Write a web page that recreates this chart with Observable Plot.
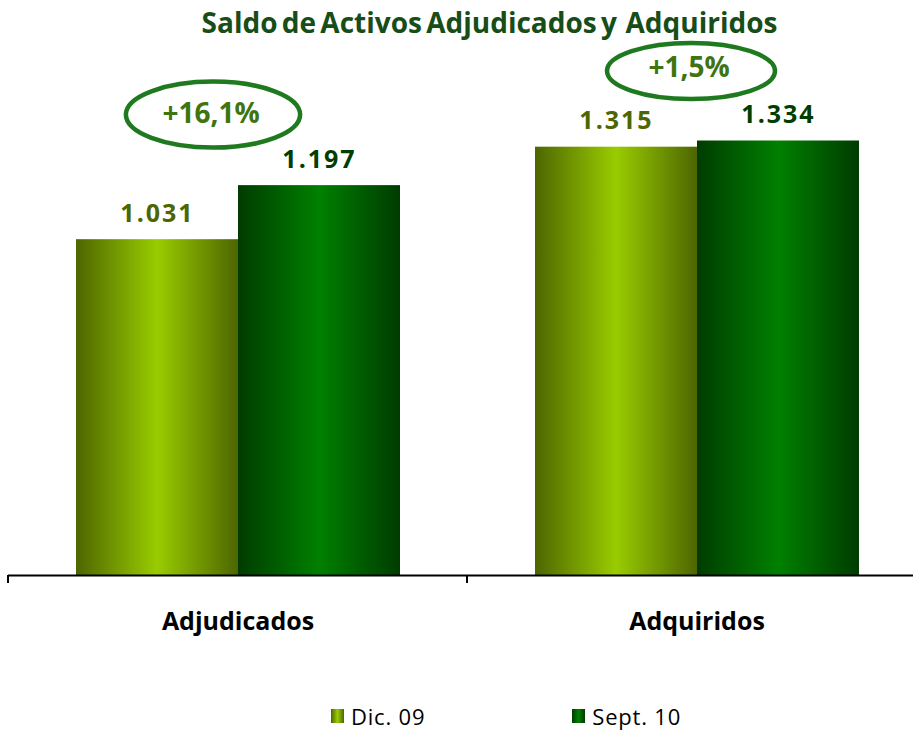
<!DOCTYPE html>
<html>
<head>
<meta charset="utf-8">
<script src="https://cdn.jsdelivr.net/npm/d3@7"></script>
<script src="https://cdn.jsdelivr.net/npm/@observablehq/plot@0.6"></script>
<style>
  html, body { margin: 0; padding: 0; background: #fff; overflow: hidden; }
  #wrap { position: relative; width: 913px; height: 733px; overflow: hidden; font-family: "Open Sans", Lato, sans-serif; }
  #title { height: 44px; line-height: 44px; padding-left: 66px; text-align: center; font-size: 28px; font-weight: bold; color: #174d17; white-space: pre; letter-spacing: 0px; word-spacing: -3px; }
  #chart svg { max-width: none !important; }
  #legend { position: absolute; top: 701px; left: 331px; display: flex; align-items: center; font-size: 22px; letter-spacing: 0.8px; color: #000; }
  .sw { width: 13px; height: 14px; margin-right: 7px; }
  .item { display: flex; align-items: center; }
</style>
</head>
<body>
<div id="wrap">
  <div id="title">Saldo de Activos Adjudicados y  Adquiridos</div>
  <div id="chart"></div>
  <div id="legend"></div>
</div>
<script>
const categories = ["Adjudicados", "Adquiridos"];
const series = ["Dic. 09", "Sept. 10"];
const dic09 = [1031, 1315];
const sept10 = [1197, 1334];
const changes = ["+16,1%", "+1,5%"];

const esLocale = d3.formatLocale({decimal: ",", thousands: ".", grouping: [3], currency: ["", " €"]});
const fmt = esLocale.format(",d");

const data = [];
categories.forEach((c, i) => {
  data.push({cat: c, series: series[0], value: dic09[i]});
  data.push({cat: c, series: series[1], value: sept10[i]});
});
const annotations = categories.map((c, i) => ({cat: c, pct: changes[i], top: Math.max(dic09[i], sept10[i])}));

const gradIds = ["gDic", "gSep"];
const labelColors = ["#4d6600", "#003d00"];
const FONT = "'Open Sans', Lato, sans-serif";

function ellipseSymbol(aspect) {
  return {
    draw(context, size) {
      const ry = Math.sqrt(size / Math.PI);
      const rx = ry * aspect;
      const k = 0.5523;
      context.moveTo(rx, 0);
      context.bezierCurveTo(rx, k * ry, k * rx, ry, 0, ry);
      context.bezierCurveTo(-k * rx, ry, -rx, k * ry, -rx, 0);
      context.bezierCurveTo(-rx, -k * ry, -k * rx, -ry, 0, -ry);
      context.bezierCurveTo(k * rx, -ry, rx, -k * ry, rx, 0);
      context.closePath();
    }
  };
}
const annoStyle = [
  {dx: -25, dyE: -71, dyT: -72, aspect: 2.64, r: 33},
  {dx: -6, dyE: -70, dyT: -73, aspect: 3.0, r: 28}
];

const annoMarks = [];
annotations.forEach((a, i) => {
  const s = annoStyle[i];
  annoMarks.push(Plot.dot([a], {fx: "cat", y: "top", frameAnchor: "middle", dx: s.dx, dy: s.dyE, r: s.r,
    symbol: ellipseSymbol(s.aspect), stroke: "#1f7a1f", strokeWidth: 4.5, fill: "none"}));
  annoMarks.push(Plot.text([a], {fx: "cat", y: "top", frameAnchor: "middle", dx: s.dx - 2, dy: s.dyT, text: "pct",
    fill: "#3f7410", fontSize: 28, fontWeight: "bold", lineAnchor: "middle", style: {letterSpacing: "1px"}}));
});

const chart = Plot.plot({
  width: 930,
  height: 620,
  marginLeft: 8,
  marginRight: 4,
  marginTop: 75,
  marginBottom: 89,
  style: {fontFamily: FONT, background: "transparent", overflow: "visible", maxWidth: "none"},
  fx: {domain: categories, padding: 0, axis: null},
  x: {domain: series, paddingInner: 0, paddingOuter: 0.41, axis: null},
  y: {domain: [0, 1400], axis: null},
  color: {domain: series, range: gradIds.map(id => `url(#${id})`)},
  marks: [
    Plot.barY(data, {fx: "cat", x: "series", y: "value", fill: "series"}),
    ...series.map((s, i) => Plot.text(data.filter(d => d.series === s), {
      fx: "cat", x: "series", y: "value", text: d => fmt(d.value), dy: -26,
      fill: labelColors[i], fontSize: 25, fontWeight: "bold", lineAnchor: "middle"
    })),
    Plot.ruleY([0], {stroke: "#000", strokeWidth: 2}),
    Plot.text(categories, {fx: d => d, text: d => d, frameAnchor: "bottom", dy: 46, lineAnchor: "middle",
      fontSize: 25, fontWeight: "bold", fill: "#000"}),
    ...annoMarks
  ]
});

// letter spacing of value labels and percent labels
d3.select(chart).selectAll('g[aria-label="text"]').each(function (d, i) {
  if (i < 2) d3.select(this).style("letter-spacing", "2px");
});

// gradients
const svg = d3.select(chart);
const defs = svg.insert("defs", ":first-child");
const stops = [["#4d6600", "#99cc00"], ["#003c00", "#008000"]];
gradIds.forEach((id, i) => {
  const g = defs.append("linearGradient").attr("id", id).attr("x1", "0").attr("x2", "1").attr("y1", "0").attr("y2", "0");
  g.append("stop").attr("offset", "0").attr("stop-color", stops[i][0]);
  g.append("stop").attr("offset", "0.5").attr("stop-color", stops[i][1]);
  g.append("stop").attr("offset", "1").attr("stop-color", stops[i][0]);
});

// axis ticks at category boundaries, from the fx and y scales
const fxs = chart.scale("fx");
const ys = chart.scale("y");
const y0 = ys.apply(0);
const edges = categories.map(c => fxs.apply(c)).concat([fxs.apply(categories[categories.length - 1]) + fxs.bandwidth]);
const tg = svg.append("g");
edges.forEach(x => {
  tg.append("line").attr("x1", x).attr("x2", x).attr("y1", y0).attr("y2", y0 + 8)
    .attr("stroke", "#000").attr("stroke-width", 2);
});

document.getElementById("chart").appendChild(chart);

// legend
const legend = document.getElementById("legend");
series.forEach((s, i) => {
  const item = document.createElement("div");
  item.className = "item";
  if (i > 0) item.style.marginLeft = "147px";
  const sw = document.createElement("div");
  sw.className = "sw";
  sw.style.background = `linear-gradient(to right, ${stops[i][0]}, ${stops[i][1]}, ${stops[i][0]})`;
  const t = document.createElement("span");
  t.textContent = s;
  item.appendChild(sw);
  item.appendChild(t);
  legend.appendChild(item);
});
</script>
</body>
</html>
